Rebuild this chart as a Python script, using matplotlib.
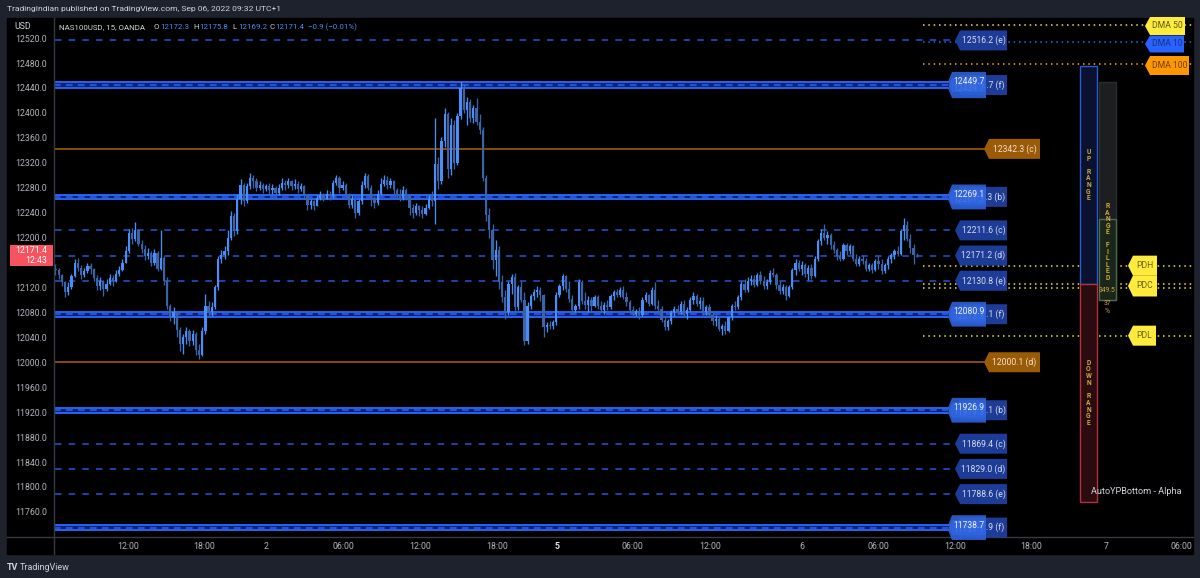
import matplotlib
matplotlib.use('Agg')
import matplotlib.pyplot as plt
from matplotlib.patches import Rectangle, Polygon
import matplotlib.transforms as mtransforms

# ---------------- data ----------------
opens = [12150,12148,12140,12128,12112,12120,12138,12160,12152,12140,
         12146,12155,12150,12135,12122,12130,12118,12125,12135,12130,
         12142,12148,12160,12178,12208,12198,12212,12190,12182,12170,
         12176,12160,12176,12150,12168,12130,12090,12072,12080,12052,
         12030,12040,12050,12034,12046,12020,12012,12050,12090,12080,
         12088,12120,12165,12172,12178,12200,12235,12210,12262,12285,
         12258,12282,12296,12290,12280,12284,12278,12282,12276,12280,
         12272,12280,12288,12284,12290,12282,12286,12278,12282,12266,
         12252,12258,12250,12264,12268,12262,12270,12266,12288,12296,
         12280,12284,12270,12252,12262,12240,12258,12284,12298,12280,
         12262,12256,12270,12286,12292,12284,12290,12276,12270,12264,
         12276,12266,12248,12240,12250,12244,12238,12248,12262,12258,
         12318,12290,12355,12398,12310,12380,12320,12395,12440,12405,
         12418,12392,12408,12386,12372,12296,12236,12212,12164,12180,
         12128,12104,12080,12126,12136,12088,12120,12100,12034,12090,
         12106,12112,12116,12108,12056,12060,12058,12064,12108,12122,
         12138,12118,12102,12084,12090,12128,12098,12092,12100,12090,
         12104,12090,12084,12092,12088,12106,12112,12108,12116,12104,
         12096,12084,12078,12082,12076,12100,12108,12094,12116,12090,
         12086,12068,12056,12066,12080,12086,12080,12094,12078,12084,
         12100,12106,12094,12098,12080,12088,12076,12066,12070,12054,
         12058,12050,12072,12090,12088,12104,12126,12116,12130,12134,
         12124,12140,12130,12122,12128,12144,12140,12124,12114,12120,
         12106,12120,12148,12160,12150,12156,12142,12152,12138,12166,
         12194,12208,12200,12204,12188,12180,12170,12166,12188,12178,
         12186,12166,12158,12166,12162,12150,12156,12148,12162,12158,
         12146,12156,12166,12172,12178,12174,12210,12220,12198,12184,12172.3]
highs = [12158,12152,12142,12130,12128,12142,12166,12168,12156,12152,
         12160,12160,12152,12140,12136,12132,12134,12142,12140,12148,
         12154,12166,12186,12214,12216,12225,12214,12196,12188,12184,
         12178,12182,12178,12212,12170,12136,12094,12088,12082,12056,
         12046,12056,12054,12052,12048,12030,12056,12110,12098,12096,
         12124,12170,12180,12186,12212,12242,12240,12270,12294,12288,
         12288,12304,12300,12296,12290,12288,12286,12288,12286,12282,
         12286,12296,12292,12296,12292,12294,12290,12288,12284,12268,
         12262,12260,12268,12274,12272,12276,12274,12292,12300,12298,
         12290,12288,12272,12268,12262,12262,12290,12304,12302,12284,
         12266,12276,12296,12300,12298,12296,12292,12280,12278,12282,
         12280,12268,12254,12256,12252,12250,12254,12268,12274,12392,
         12330,12362,12408,12402,12392,12388,12400,12450,12446,12425,
         12422,12412,12424,12398,12378,12300,12248,12222,12196,12186,
         12140,12116,12130,12142,12144,12124,12130,12112,12096,12110,
         12118,12122,12120,12110,12064,12066,12068,12112,12126,12142,
         12140,12130,12108,12094,12134,12132,12112,12106,12104,12108,
         12108,12098,12096,12100,12110,12116,12118,12120,12122,12112,
         12100,12090,12086,12088,12104,12112,12110,12120,12128,12100,
         12090,12074,12070,12084,12090,12092,12098,12100,12088,12104,
         12112,12110,12104,12104,12092,12094,12082,12076,12074,12062,
         12066,12074,12094,12098,12108,12130,12134,12136,12140,12140,
         12144,12146,12138,12134,12148,12152,12144,12130,12126,12124,
         12124,12152,12166,12164,12162,12160,12156,12158,12170,12198,
         12214,12222,12210,12208,12194,12184,12178,12192,12192,12190,
         12188,12174,12170,12172,12168,12160,12160,12166,12170,12166,
         12160,12170,12176,12182,12186,12214,12232,12226,12206,12190,12175.8]
lows = [12140,12134,12122,12104,12108,12118,12136,12146,12134,12136,
        12144,12142,12130,12116,12116,12106,12114,12124,12122,12128,
        12138,12146,12160,12176,12190,12194,12186,12176,12164,12166,
        12154,12156,12146,12148,12124,12086,12066,12062,12040,12018,
        12014,12030,12026,12028,12012,12005,12010,12046,12072,12074,
        12086,12116,12160,12166,12172,12196,12202,12206,12254,12250,
        12256,12278,12280,12274,12276,12272,12274,12270,12270,12262,
        12268,12276,12276,12280,12276,12278,12272,12274,12262,12244,
        12246,12244,12250,12260,12258,12262,12260,12264,12284,12272,
        12276,12264,12248,12248,12232,12236,12254,12280,12276,12250,
        12248,12252,12268,12282,12278,12280,12270,12262,12258,12260,
        12260,12236,12232,12236,12234,12232,12236,12246,12250,12222,
        12278,12286,12346,12296,12300,12310,12316,12390,12400,12380,
        12386,12384,12380,12366,12290,12226,12200,12150,12138,12118,
        12096,12070,12076,12110,12080,12084,12096,12028,12030,12086,
        12100,12104,12098,12040,12048,12054,12054,12060,12104,12116,
        12112,12096,12078,12080,12086,12094,12086,12080,12082,12088,
        12086,12080,12078,12084,12086,12100,12104,12104,12102,12090,
        12080,12072,12074,12070,12074,12096,12090,12092,12086,12080,
        12064,12052,12052,12062,12074,12078,12078,12074,12070,12082,
        12094,12090,12086,12076,12076,12072,12060,12058,12050,12044,
        12046,12048,12068,12084,12086,12100,12112,12112,12124,12120,
        12122,12126,12118,12118,12126,12136,12118,12110,12110,12100,
        12104,12118,12140,12146,12140,12136,12132,12134,12136,12162,
        12188,12196,12190,12182,12176,12164,12162,12164,12172,12174,
        12162,12154,12154,12158,12146,12146,12144,12146,12150,12142,
        12144,12150,12160,12166,12170,12172,12196,12194,12176,12158,12169.2]
closes = [12148,12140,12128,12112,12120,12138,12160,12152,12140,12146,
          12155,12150,12135,12122,12130,12118,12125,12135,12130,12142,
          12148,12160,12178,12208,12198,12212,12190,12182,12170,12176,
          12160,12176,12150,12168,12130,12090,12072,12080,12052,12030,
          12040,12050,12034,12046,12020,12012,12050,12090,12080,12088,
          12120,12165,12172,12178,12200,12235,12210,12262,12285,12258,
          12282,12296,12290,12280,12284,12278,12282,12276,12280,12272,
          12280,12288,12284,12290,12282,12286,12278,12282,12266,12252,
          12258,12250,12264,12268,12262,12270,12266,12288,12296,12280,
          12284,12270,12252,12262,12240,12258,12284,12298,12280,12262,
          12256,12270,12286,12292,12284,12290,12276,12270,12264,12276,
          12266,12248,12240,12250,12244,12238,12248,12262,12258,12318,
          12290,12355,12398,12310,12380,12320,12395,12440,12405,12418,
          12392,12408,12386,12372,12296,12236,12212,12164,12180,12128,
          12104,12080,12126,12136,12088,12120,12100,12034,12090,12106,
          12112,12116,12108,12056,12060,12058,12064,12108,12122,12138,
          12118,12102,12084,12090,12128,12098,12092,12100,12090,12104,
          12090,12084,12092,12088,12106,12112,12108,12116,12104,12096,
          12084,12078,12082,12076,12100,12108,12094,12116,12090,12086,
          12068,12056,12066,12080,12086,12080,12094,12078,12084,12100,
          12106,12094,12098,12080,12088,12076,12066,12070,12054,12058,
          12050,12072,12090,12088,12104,12126,12116,12130,12134,12124,
          12140,12130,12122,12128,12144,12140,12124,12114,12120,12106,
          12120,12148,12160,12150,12156,12142,12152,12138,12166,12194,
          12208,12200,12204,12188,12180,12170,12166,12188,12178,12186,
          12166,12158,12166,12162,12150,12156,12148,12162,12158,12146,
          12156,12166,12172,12178,12174,12210,12220,12198,12184,12172.3,12171.4]

time_tick_pos = [22.7, 46.6, 66.0, 90.4, 114.3, 138.4, 157.2, 181.0, 205.1,
                 234.0, 258.1, 282.0, 305.8, 329.3, 353.1]
time_tick_labels = ['12:00', '18:00', '2', '06:00', '12:00', '18:00', '5', '06:00',
                    '12:00', '6', '06:00', '12:00', '18:00', '7', '06:00']
# 12160.0 is hidden behind the last-price label in the reference
price_ticks = [11760, 11800, 11840, 11880, 11920, 11960, 12000, 12040, 12080, 12120,
               12200, 12240, 12280, 12320, 12360, 12400, 12440, 12480, 12520]

band_upper = [12449.7, 12269.1, 12080.9, 11926.9, 11738.7]
band_lower = [12439.7, 12261.3, 12073.3, 11919.3, 11731.1]
band_mid = [12444.7, 12265.3, 12077.1, 11923.1, 11734.9]
band_tags = ['(f)', '(b)', '(f)', '(b)', '(f)']
dashed_levels = [12516.2, 12211.6, 12171.2, 12130.8, 11869.4, 11829.0, 11788.6]
dashed_tags = ['(e)', '(c)', '(d)', '(e)', '(c)', '(d)', '(e)']
orange_levels = [12342.3, 12000.1]
orange_tags = ['(c)', '(d)']
dma_names = ['DMA 50', 'DMA 10', 'DMA 100']
dma_values = [12541.0, 12514.5, 12478.0]
pd_names = ['PDH', 'PDC', '', 'PDL']
pd_values = [12155.0, 12125.6, 12119.2, 12042.7]
range_size = 349.5
range_hi = 12449.7
range_filled_pct = 37
last_price = 12171.4
last_countdown = '12:43'

# ---------------- layout ----------------
W, H = 1200, 578
fig = plt.figure(figsize=(12, 5.78), dpi=100)
fig.patch.set_facecolor('#1e222d')
FONT = 'Roboto'
plt.rcParams['font.family'] = [FONT, 'DejaVu Sans']

bg = fig.add_axes([0, 0, 1, 1], zorder=-5)
bg.set_xlim(0, W); bg.set_ylim(H, 0); bg.axis('off')
bg.add_patch(Rectangle((7, 18), 1186, 536, color='black'))

PL, PR, PT, PB = 54, 1193, 18, 536.5
ax = fig.add_axes([PL / W, (H - PB) / H, (PR - PL) / W, (PB - PT) / H], zorder=1)
ax.set_facecolor('black')
ax.set_xlim(-0.47, 356.6)
ax.set_ylim(11720.6, 12552.2)
for s in ax.spines.values():
    s.set_visible(False)

ax.set_yticks(price_ticks)
ax.set_yticklabels([f'{v:.1f}' for v in price_ticks])
ax.tick_params(axis='y', length=0, pad=5, labelsize=6.3, colors='#b2b5be')
ax.set_xticks(time_tick_pos)
ax.set_xticklabels(time_tick_labels)
ax.tick_params(axis='x', length=0, pad=4, labelsize=6.3, colors='#b2b5be')
for lab in ax.get_xticklabels():
    if lab.get_text() == '5':
        lab.set_fontweight('bold')
        lab.set_color('#e0e3eb')

def fx(p):
    return (p - PL) / (PR - PL)

blend = mtransforms.blended_transform_factory(ax.transAxes, ax.transData)

# bands
for up, lo, mid in zip(band_upper, band_lower, band_mid):
    ax.axhspan(lo, up, xmin=0, xmax=fx(948), color='#0b2275', lw=0, zorder=2)
    ax.axhline(up, xmin=0, xmax=fx(948), color='#2b63f0', lw=1.4, zorder=3)
    ax.axhline(lo, xmin=0, xmax=fx(948), color='#2b63f0', lw=1.4, zorder=3)
    ax.axhline(mid, xmin=0, xmax=fx(955), color='#2253d4', lw=1.6, zorder=3,
               dashes=(3.0, 2.4))
# dashed
for lv in dashed_levels:
    ax.axhline(lv, xmin=fx(55), xmax=fx(955), color='#2050c4', lw=1.2, zorder=2,
               dashes=(3.9, 4.3))
# orange
for lv in orange_levels:
    ax.axhline(lv, xmin=0, xmax=fx(984), color='#915409', lw=1.3, zorder=2)
# dotted DMA / PD lines
dma_cols = ['#e8d33a', '#2962ff', '#e8a020']
for v, c in zip(dma_values, dma_cols):
    ax.axhline(v, xmin=fx(923), xmax=1, color=c, lw=1.2, dashes=(0.9, 2.3), zorder=2)
for v in pd_values:
    ax.axhline(v, xmin=fx(923), xmax=1, color='#e8d33a', lw=1.2, dashes=(0.9, 2.3), zorder=2)

# candles
xs = list(range(len(closes)))
up_c, dn_c = '#4a8ef5', '#3a63a8'
cols = [up_c if c >= o else dn_c for o, c in zip(opens, closes)]
ax.vlines(xs, lows, highs, colors=cols, lw=0.95, zorder=4)
bottoms = [min(o, c) for o, c in zip(opens, closes)]
heights = [max(abs(c - o), 1.2) for o, c in zip(opens, closes)]
ax.bar(xs, heights, bottom=bottoms, width=0.7, color=cols, lw=0, zorder=5)

# range boxes
pdc = pd_values[1]
bx0, bw = fx(1080), fx(1097) - fx(1080)
ax.add_patch(Rectangle((bx0, pdc), bw, range_size, transform=blend, fc='#0a1230',
                       ec='#2a5bd8', lw=1.0, zorder=6, clip_on=False))
ax.add_patch(Rectangle((bx0, pdc - range_size), bw, range_size, transform=blend,
                       fc='#2a0c10', ec='#b3313a', lw=1.0, zorder=6, clip_on=False))
gx0, gw = fx(1099), fx(1116) - fx(1099)
r_lo = range_hi - range_size
ax.add_patch(Rectangle((gx0, r_lo), gw, range_size, transform=blend, fc='#1d1e20',
                       ec='#2c2d30', lw=1.0, zorder=6, clip_on=False))
ax.add_patch(Rectangle((gx0, r_lo), gw, range_size * range_filled_pct / 100.0,
                       transform=blend, fc='#1a2619', ec='#4d6a4e', lw=1.0, zorder=7,
                       clip_on=False))

# ---------------- overlay ----------------
ov = fig.add_axes([0, 0, 1, 1], zorder=10)
ov.set_xlim(0, W); ov.set_ylim(H, 0); ov.axis('off'); ov.patch.set_visible(False)

def py(p):
    return H - ax.transData.transform((0, p))[1]

ov.plot([53.5, 53.5], [18, 554], color='#363a45', lw=1)
ov.plot([7, 1193], [536.8, 536.8], color='#363a45', lw=1)

LBL = 6.2
def tag(x0, x1, yc, h, fc, text, tc, alpha=1.0, tip=5, z=3, fs=LBL, tx=None, ha='center'):
    poly = Polygon([(x0 - tip, yc), (x0, yc - h / 2), (x1, yc - h / 2), (x1, yc + h / 2),
                    (x0, yc + h / 2)], closed=True, fc=fc, ec='none', alpha=alpha, zorder=z)
    ov.add_patch(poly)
    if tx is None:
        tx = (x0 + x1) / 2
    ov.text(tx, yc, text, color=tc, fontsize=fs, ha=ha, va='center', zorder=z + 0.5)

for up, lo, mid, tg in zip(band_upper, band_lower, band_mid, band_tags):
    tag(960, 1007, py(mid), 20, '#1d3c98', f'{mid:.1f} {tg}', '#d8dce8', z=3)
    tag(952, 986, py(lo), 20, '#2c5fd8', f'{lo:.1f}', '#c9d3f0', alpha=0.92, z=4, tip=4)
    tag(952, 986, py(up), 20, '#3166e0', f'{up:.1f}', '#eef1fa', alpha=0.85, z=5, tip=4)
for lv, tg in zip(dashed_levels, dashed_tags):
    tag(960, 1007, py(lv), 20, '#1d3c98', f'{lv:.1f} {tg}', '#d8dce8', z=3)
for lv, tg in zip(orange_levels, orange_tags):
    tag(989, 1040, py(lv), 20, '#9a5a06', f'{lv:.1f} {tg}', '#f0e2cf', z=3)

# DMA labels
tag(1150, 1185, 26, 18, '#ffeb3b', dma_names[0], '#5a5520', z=6)
tag(1150, 1184, 44, 17, '#2962ff', dma_names[1], '#17327a', z=6)
tag(1150, 1189, 65.5, 19, '#ff9800', dma_names[2], '#6a3d00', z=6)
# PD labels
tag(1133, 1157, py(pd_values[0]), 20, '#ffeb3b', pd_names[0], '#6b6420', z=6)
tag(1133, 1157, py(pd_values[1]) + 2, 21, '#ffeb3b', pd_names[1], '#6b6420', z=6)
tag(1133, 1156, py(pd_values[3]), 20, '#ffeb3b', pd_names[3], '#6b6420', z=6)

def vletters(xc, yc, s, step, color, fs=4.9):
    n = len(s)
    y0 = yc - (n - 1) * step / 2
    for k, ch in enumerate(s):
        if ch != ' ':
            ov.text(xc, y0 + k * step, ch, color=color, fontsize=fs, ha='center',
                    va='center', fontweight='bold', zorder=8)

gold = '#cfaa38'
vletters(1088.5, (py(pdc) + py(pdc + range_size)) / 2, 'UP RANGE', 6.6, gold)
vletters(1088.5, (py(pdc) + py(pdc - range_size)) / 2, 'DOWN RANGE', 6.7, gold)
vletters(1107.5, 242, 'RANGE FILLED', 6.5, gold)
ov.text(1107.5, 291, f'{range_size:.1f}', color=gold, fontsize=4.9, ha='center', va='center', zorder=8)
ov.text(1107.5, 303.5, f'{range_filled_pct}', color=gold, fontsize=4.9, ha='center', va='center', zorder=8)
ov.text(1107.5, 311.5, '%', color=gold, fontsize=4.9, ha='center', va='center', zorder=8)

ov.text(1136, 491, 'AutoYPBottom - Alpha', color='#d1d4dc', fontsize=6.6, ha='center', va='center')

# current price label on left axis
yl = py(last_price)
ov.add_patch(Rectangle((10, yl - 10.5), 43, 21, fc='#f7525f', ec='none', zorder=6))
ov.text(47, yl - 4.5, f'{last_price:.1f}', color='white', fontsize=6.3, ha='right', va='center', zorder=7)
ov.text(47, yl + 5, last_countdown, color='white', fontsize=6.3, ha='right', va='center', zorder=7)

ov.text(14, 26.5, 'USD', color='#d1d4dc', fontsize=6.3, ha='left', va='center')

# header
ov.text(7, 9.5, 'TradingIndian published on TradingView.com, Sep 06, 2022 09:32 UTC+1',
        color='#d1d4dc', fontsize=6.1, ha='left', va='center')

# legend line (x positions)
light, blue = '#d1d4dc', '#4a8ef5'
chg = opens[-1] - closes[-1]
parts = [('NAS100USD, 15, OANDA', light, 59), ('O', light, 154), (f'{opens[-1]:.1f}', blue, 160),
         ('H', light, 193), (f'{highs[-1]:.1f}', blue, 199), ('L', light, 232),
         (f'{lows[-1]:.1f}', blue, 238), ('C', light, 269), (f'{closes[-1]:.1f}', blue, 275),
         (f'\u2212{chg:.1f} (\u2212{chg / opens[-1] * 100:.2f}%)', blue, 308)]
for s, c, xpos in parts:
    ov.text(xpos, 27, s, color=c, fontsize=5.7, ha='left', va='center')

# footer
ov.text(7, 568, 'TV', color='#d1d4dc', fontsize=6.5, fontweight='bold', ha='left', va='center')
ov.text(20, 568, 'TradingView', color='#d1d4dc', fontsize=6.5, ha='left', va='center')

fig.savefig('out.png', dpi=100, facecolor=fig.get_facecolor())
